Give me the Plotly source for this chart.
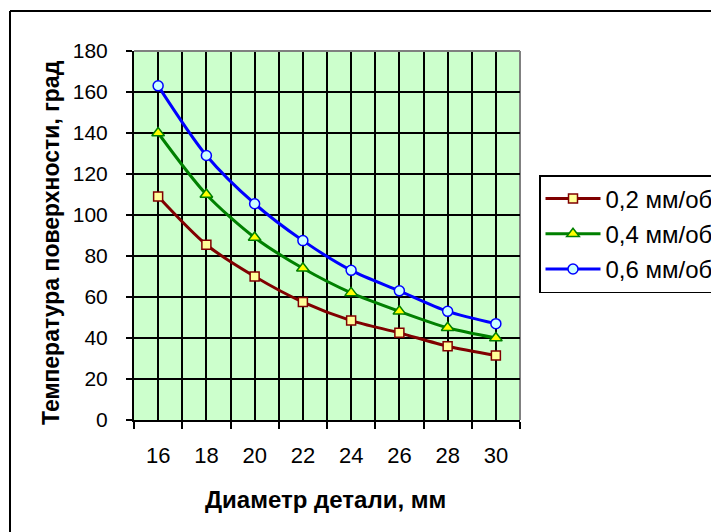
import plotly.graph_objects as go

diameters = [16, 18, 20, 22, 24, 26, 28, 30]
tick_labels = ["16", "18", "20", "22", "24", "26", "28", "30"]
temp_02 = [109, 85.5, 70, 57.5, 48.5, 42.5, 36, 31.5]
temp_04 = [140, 110, 89, 74, 62, 53, 45, 40]
temp_06 = [163, 129, 105.5, 87.5, 73, 63, 53, 47]
series_names = ["0,2 мм/об", "0,4 мм/об", "0,6 мм/об"]
x_title = "Диаметр детали, мм"
y_title = "Температура поверхности, град"

W, H = 711, 532
L, R, T, B = 134, 520, 51, 420

def px_x(p):
    return (p - L) / (R - L)

def px_y(p):
    return (B - p) / (B - T)

FONT = "Liberation Sans, Arial, sans-serif"

fig = go.Figure()

styles = [
    (temp_02, "#800000", "square", "#FFFF99", 9),
    (temp_04, "#008000", "triangle-up", "#FFFF00", 11),
    (temp_06, "#0000FF", "circle", "#CCFFFF", 10),
]
for i, (vals, col, sym, fill, sz) in enumerate(styles):
    fig.add_trace(go.Scatter(
        x=diameters, y=vals, name=series_names[i],
        mode="lines+markers",
        line=dict(color=col, width=3, shape="spline", smoothing=0.8),
        marker=dict(symbol=sym, size=sz, color=fill, line=dict(color=col, width=1.5)),
        legendgroup=f"g{i}",
    ))

fig.update_layout(
    width=W, height=H,
    margin=dict(l=L, r=W - R, t=T, b=H - B, pad=0, autoexpand=False),
    paper_bgcolor="white",
    plot_bgcolor="#CCFFCC",
    font=dict(family=FONT, color="black"),
    showlegend=True,
    legend=dict(
        xref="container", yref="container",
        x=539 / W, y=1 - 175 / H, xanchor="left", yanchor="top",
        bgcolor="white", bordercolor="black", borderwidth=1.5,
        font=dict(size=24, family=FONT, color="black"),
        traceorder="grouped", tracegroupgap=1, itemwidth=55,
    ),
    xaxis=dict(
        range=[15, 31],
        tickvals=diameters, ticktext=tick_labels,
        ticks="", showgrid=True, gridcolor="black", gridwidth=2,
        tickfont=dict(size=22, family=FONT),
        ticklabelstandoff=15,
        showline=True, linecolor="black", linewidth=2,
        zeroline=False,
        minor=dict(tick0=15, dtick=2, ticks="outside", ticklen=7, tickwidth=1.5,
                   tickcolor="black", showgrid=True, gridcolor="black", gridwidth=2),
        fixedrange=True,
    ),
    yaxis=dict(
        range=[0, 180], dtick=20, tick0=0,
        ticks="outside", ticklen=6, tickwidth=1.5, tickcolor="black",
        showgrid=True, gridcolor="black", gridwidth=2,
        tickfont=dict(size=21, family=FONT),
        ticklabelstandoff=14,
        showline=True, linecolor="black", linewidth=2,
        zeroline=False,
        fixedrange=True,
    ),
    annotations=[
        dict(text=f"<b>{x_title}</b>", xref="paper", yref="paper",
             x=px_x(325), y=px_y(499), xanchor="center", yanchor="middle",
             showarrow=False, font=dict(size=24, family=FONT, color="black")),
        dict(text=f"<b>{y_title}</b>", xref="paper", yref="paper",
             x=px_x(51), y=px_y(243), xanchor="center", yanchor="middle",
             textangle=-90, showarrow=False, font=dict(size=23, family=FONT, color="black")),
    ],
    shapes=[
        dict(type="line", xref="paper", yref="paper",
             x0=px_x(10), x1=px_x(800), y0=px_y(11), y1=px_y(11),
             line=dict(color="black", width=2), layer="below"),
        dict(type="line", xref="paper", yref="paper",
             x0=px_x(10), x1=px_x(10), y0=px_y(11), y1=px_y(600),
             line=dict(color="black", width=2), layer="below"),
        dict(type="line", xref="paper", yref="paper",
             x0=0, x1=1, y0=1, y1=1, line=dict(color="#808080", width=2)),
        dict(type="line", xref="paper", yref="paper",
             x0=1, x1=1, y0=0, y1=1, line=dict(color="#808080", width=2), layer="below"),
    ],
)

fig.write_html("out.html", config={"displayModeBar": False})
